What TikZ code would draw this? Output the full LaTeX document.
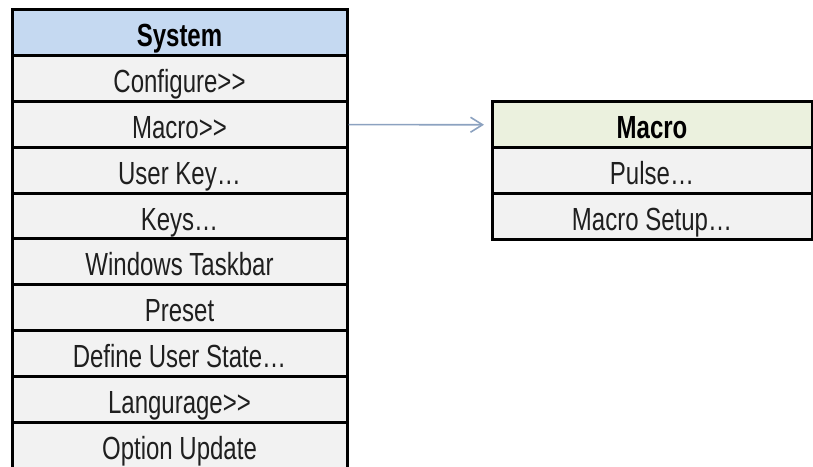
\documentclass[tikz,border=0pt]{standalone}
\usepackage{fontspec}
\setmainfont[FakeStretch=0.75]{Liberation Sans}
\usetikzlibrary{positioning,arrows.meta}
\definecolor{sysblue}{HTML}{C5D9F1}
\definecolor{macgreen}{HTML}{EBF1DE}
\definecolor{rowgray}{HTML}{F2F2F2}
\definecolor{arrowblue}{HTML}{8CA2C0}
\definecolor{txtgray}{HTML}{1F1F1F}
\tikzset{
  cell/.style={draw=black, line width=3pt, fill=rowgray, outer sep=0pt, inner sep=0pt,
    minimum height=45.8pt, text height=28pt, text depth=0pt, text=txtgray,
    font=\fontsize{32}{38}\selectfont},
  syscell/.style={cell, minimum width=335pt},
  maccell/.style={cell, minimum width=320pt},
  head/.style={text=black, font=\fontsize{32}{38}\selectfont\bfseries},
  link/.style={draw=arrowblue, line width=1.6pt, -{Straight Barb[length=12pt,width=15pt]}}
}

\begin{document}
\begin{tikzpicture}[x=1pt,y=1pt]
  \useasboundingbox (0,0) rectangle (813,466);
  % system menu
  \node[syscell, head, fill=sysblue] (system) at (179.5,433.1) {System};
  \node[syscell, below=0pt of system] (configure) {Configure>{}>};
  \node[syscell, below=0pt of configure] (macro) {Macro>{}>};
  \node[syscell, below=0pt of macro] (userkey) {User Key\dots};
  \node[syscell, below=0pt of userkey] (keys) {Keys\dots};
  \node[syscell, below=0pt of keys] (taskbar) {Windows Taskbar};
  \node[syscell, below=0pt of taskbar] (preset) {Preset};
  \node[syscell, below=0pt of preset] (userstate) {Define User State\dots};
  \node[syscell, below=0pt of userstate] (language) {Langurage>{}>};
  \node[syscell, below=0pt of language] (update) {Option Update};
  % macro submenu
  \node[maccell, head, fill=macgreen] (machead) at (652,341.1) {Macro};
  \node[maccell, below=0pt of machead] (pulse) {Pulse\dots};
  \node[maccell, below=0pt of pulse] (setup) {Macro Setup\dots};
  \draw[link, shorten <=1.5pt, shorten >=8pt] (macro) -- (machead);
\end{tikzpicture}
\end{document}
